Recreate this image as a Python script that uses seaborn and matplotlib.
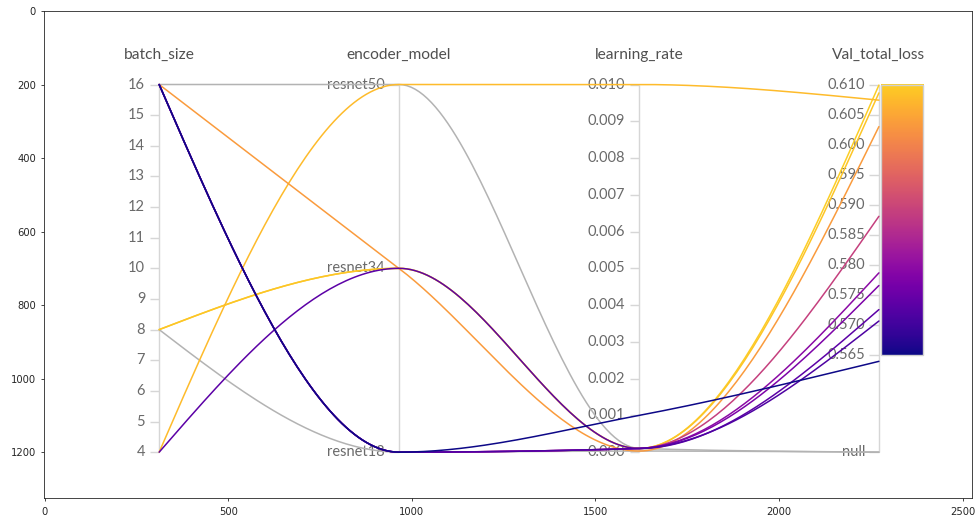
import numpy as np
import matplotlib
matplotlib.use("Agg")
import matplotlib.pyplot as plt
from matplotlib.patches import Rectangle
from matplotlib.colors import ListedColormap
import seaborn as sns

# ---- runs (one entry per run) ----
batch_size = [16, 8, 8, 8, 4, 16, 16, 16, 16, 4, 16, 16]
encoder_model = ["resnet50", "resnet18", "resnet34", "resnet34", "resnet50", "resnet34",
                 "resnet18", "resnet18", "resnet18", "resnet34", "resnet18", "resnet18"]
learning_rate = [0.0001, 0.00003, 0.0001, 0.0001, 0.010, 0.00003,
                 0.0001, 0.0001, 0.0001, 0.0001, 0.0001, 0.001]
val_total_loss = [None, None, 0.6099, 0.6086, 0.6074, 0.6030,
                  0.5881, 0.5787, 0.5766, 0.5726, 0.5707, 0.5640]

# ---- axis definitions ----
axis_titles = ["batch_size", "encoder_model", "learning_rate", "Val_total_loss"]
batch_ticks = list(range(4, 17))
encoder_levels = ["resnet50", "resnet34", "resnet18"]
lr_ticks = [i / 1000 for i in range(11)]
loss_ticks = [0.565, 0.570, 0.575, 0.580, 0.585, 0.590, 0.595, 0.600, 0.605, 0.610]
loss_domain = (0.5640, 0.6100)
cbar_range = (0.5651, 0.6100)

# ---- layout in canvas units ----
AX_X = [312, 965, 1619, 2272]
Y_TOP, Y_BOT = 200, 1200
LOSS_Y = (953, 200)          # canvas y for loss_domain (low, high)
TICK_LEN, LABEL_GAP = 26, 38
CBAR_X = (2278, 2393)

INNER_FONT = ["Lato", "DejaVu Sans"]
TITLE_C, TICK_C = "#505050", "#6a6a6a"
AXIS_C, NULL_C = "#d6d6d6", "#b3b3b3"


def y_batch(v):
    return Y_BOT - (v - batch_ticks[0]) / (batch_ticks[-1] - batch_ticks[0]) * (Y_BOT - Y_TOP)


def y_encoder(v):
    return Y_TOP + encoder_levels.index(v) / (len(encoder_levels) - 1) * (Y_BOT - Y_TOP)


def y_lr(v):
    return Y_BOT - (v - lr_ticks[0]) / (lr_ticks[-1] - lr_ticks[0]) * (Y_BOT - Y_TOP)


def y_loss(v):
    if v is None:
        return Y_BOT
    lo, hi = loss_domain
    return LOSS_Y[0] + (v - lo) / (hi - lo) * (LOSS_Y[1] - LOSS_Y[0])


def monotone_x(xs, ys, n=60):
    """Monotone cubic (Steffen) interpolation through the axis crossings."""
    xs = np.asarray(xs, float)
    ys = np.asarray(ys, float)
    h = np.diff(xs)
    s = np.diff(ys) / h
    m = len(xs)
    t = np.zeros(m)
    for i in range(1, m - 1):
        h0, h1, s0, s1 = h[i - 1], h[i], s[i - 1], s[i]
        p = (s0 * h1 + s1 * h0) / (h0 + h1)
        t[i] = (np.sign(s0) + np.sign(s1)) * min(abs(s0), abs(s1), 0.5 * abs(p))
    t[0] = (3 * s[0] - t[1]) / 2
    t[-1] = (3 * s[-1] - t[-2]) / 2
    u = np.linspace(0, 1, n)[:, None]
    px, py = [], []
    for i in range(m - 1):
        dx = h[i] / 3
        P = np.array([[xs[i], ys[i]],
                      [xs[i] + dx, ys[i] + dx * t[i]],
                      [xs[i + 1] - dx, ys[i + 1] - dx * t[i + 1]],
                      [xs[i + 1], ys[i + 1]]])
        B = ((1 - u) ** 3) * P[0] + 3 * ((1 - u) ** 2) * u * P[1] + 3 * (1 - u) * u ** 2 * P[2] + u ** 3 * P[3]
        px.append(B[:, 0])
        py.append(B[:, 1])
    return np.concatenate(px), np.concatenate(py)


sns.set_theme(style="ticks", rc={"axes.edgecolor": "#262626", "axes.linewidth": 0.6,
                                 "xtick.color": "#262626", "ytick.color": "#262626",
                                 "xtick.major.width": 0.6, "ytick.major.width": 0.6,
                                 "xtick.major.size": 2.5, "ytick.major.size": 2.5,
                                 "xtick.labelsize": 7.2, "ytick.labelsize": 7.2})
plt.rcParams["font.family"] = ["DejaVu Sans"]

fig = plt.figure(figsize=(9.76, 5.19), dpi=100)
ax = fig.add_axes([0.0455, 0.0399, 0.9504, 0.9393])

# plasma, stopping at its golden yellow
cmap = ListedColormap(plt.get_cmap("plasma")(np.linspace(0, 0.9, 256)))
valid = [v for v in val_total_loss if v is not None]
vmin, vmax = min(valid), max(valid)

# vertical axes, ticks and labels
for x in AX_X:
    ax.plot([x, x], [Y_TOP, Y_BOT], color=AXIS_C, lw=1.0, zorder=1, solid_capstyle="butt")


def tick(x, y, label):
    ax.plot([x - TICK_LEN, x], [y, y], color=AXIS_C, lw=1.0, zorder=1, solid_capstyle="butt")
    ax.text(x - LABEL_GAP, y, label, ha="right", va="center", fontsize=10.5,
            color=TICK_C, family=INNER_FONT, zorder=2)


for b in batch_ticks:
    tick(AX_X[0], y_batch(b), str(b))
for e in encoder_levels:
    tick(AX_X[1], y_encoder(e), e)
for lr in lr_ticks:
    tick(AX_X[2], y_lr(lr), f"{lr:.3f}")
for lv in loss_ticks:
    tick(AX_X[3], y_loss(lv), f"{lv:.3f}")
tick(AX_X[3], y_loss(None), "null")

for x, title in zip(AX_X, axis_titles):
    ax.text(x, 120, title, ha="center", va="center", fontsize=11.2,
            color=TITLE_C, family=INNER_FONT, zorder=2)

# one curve per run
for b, e, lr, loss in zip(batch_size, encoder_model, learning_rate, val_total_loss):
    ys = [y_batch(b), y_encoder(e), y_lr(lr), y_loss(loss)]
    cx, cy = monotone_x(AX_X, ys)
    color = NULL_C if loss is None else cmap((loss - vmin) / (vmax - vmin))
    sns.lineplot(x=cx, y=cy, sort=False, estimator=None, color=color,
                 linewidth=1.1, ax=ax, zorder=3)

# colour scale bar beside the loss axis
grad = np.linspace(1, 0, 256)[:, None]
ax.imshow(grad, cmap=cmap, aspect="auto", origin="upper", zorder=3,
          extent=(CBAR_X[0], CBAR_X[1], y_loss(cbar_range[0]), y_loss(cbar_range[1])))
ax.add_patch(Rectangle((CBAR_X[0], y_loss(cbar_range[1])), CBAR_X[1] - CBAR_X[0],
                       y_loss(cbar_range[0]) - y_loss(cbar_range[1]),
                       fill=False, edgecolor="#d0d0d0", lw=1.0, zorder=4))

ax.set_xlim(-0.5, 2525.5)
ax.set_ylim(1325.5, -0.5)
ax.set_xticks([0, 500, 1000, 1500, 2000, 2500])
ax.set_yticks([0, 200, 400, 600, 800, 1000, 1200])
ax.set_xlabel("")
ax.set_ylabel("")

fig.savefig("out.png", dpi=100)
